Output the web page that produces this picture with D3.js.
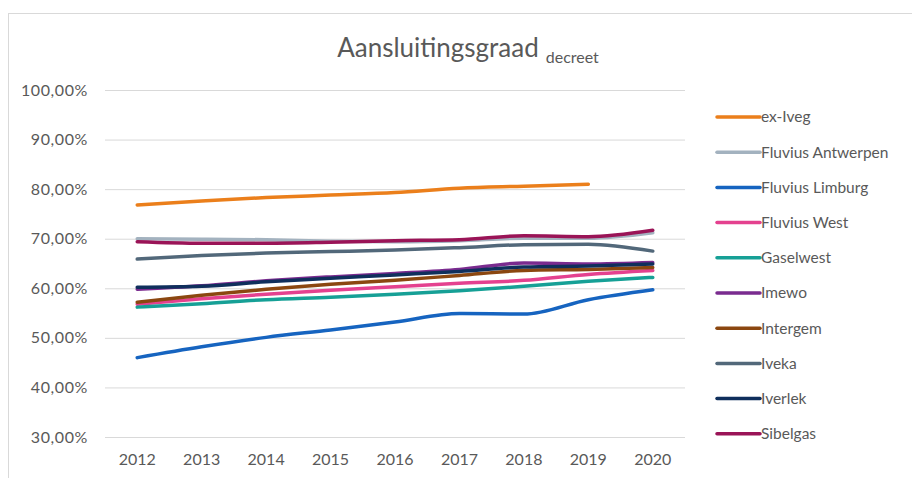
<!DOCTYPE html>
<html>
<head>
<meta charset="utf-8">
<script src="https://cdn.jsdelivr.net/npm/d3@7"></script>
<style>
body { margin: 0; background: #fff; overflow: hidden; }
text { font-family: Lato, "Open Sans", sans-serif; fill: #595959; }
.tick text { font-size: 16px; }
.tick line { stroke: #d9d9d9; }
.title { font-size: 26px; }
.legend text { font-size: 15.5px; }
</style>
</head>
<body>
<svg width="912" height="478"></svg>
<script>
const years = [2012, 2013, 2014, 2015, 2016, 2017, 2018, 2019, 2020];
const yTicks = [30, 40, 50, 60, 70, 80, 90, 100];
const names = ['ex-Iveg', 'Fluvius Antwerpen', 'Fluvius Limburg', 'Fluvius West', 'Gaselwest',
  'Imewo', 'Intergem', 'Iveka', 'Iverlek', 'Sibelgas'];
const colors = ['#eb7f1b', '#a3b2bf', '#1664c0', '#e4418f', '#16a096',
  '#7a2b8f', '#8b4710', '#52687a', '#0f2f5c', '#9a1457'];

const exIveg      = [76.8, 77.6, 78.3, 78.8, 79.3, 80.2, 80.6, 81.0, null];
const antwerpen   = [70.0, 69.9, 69.8, 69.5, 69.4, 69.6, 70.1, 70.1, 71.2];
const limburg     = [46.0, 48.2, 50.1, 51.6, 53.2, 54.9, 54.8, 57.7, 59.7];
const west        = [56.8, 57.9, 58.8, 59.6, 60.3, 61.0, 61.6, 62.8, 63.6];
const gaselwest   = [56.2, 56.9, 57.7, 58.2, 58.8, 59.5, 60.4, 61.4, 62.2];
const imewo       = [59.8, 60.5, 61.5, 62.3, 63.0, 63.8, 65.1, 64.9, 65.2];
const intergem    = [57.2, 58.6, 59.8, 60.8, 61.6, 62.6, 63.6, 63.8, 64.2];
const iveka       = [65.9, 66.6, 67.1, 67.4, 67.7, 68.2, 68.8, 68.9, 67.5];
const iverlek     = [60.2, 60.4, 61.3, 62.0, 62.7, 63.4, 64.3, 64.5, 64.9];
const sibelgas    = [69.4, 69.1, 69.1, 69.3, 69.6, 69.8, 70.6, 70.4, 71.7];
const seriesValues = [exIveg, antwerpen, limburg, west, gaselwest, imewo, intergem, iveka, iverlek, sibelgas];

const svg = d3.select('svg');

// outer frame
svg.append('rect')
  .attr('x', 8.5).attr('y', 13.5)
  .attr('width', 1000).attr('height', 1000)
  .attr('fill', 'none').attr('stroke', '#d9d9d9');

const x = d3.scaleBand().domain(years).range([105, 685]);
const y = d3.scaleLinear().domain([30, 100]).range([437, 90]);

const yAxis = svg.append('g')
  .attr('transform', 'translate(105,0)')
  .call(d3.axisLeft(y).tickValues(yTicks).tickSize(-580).tickPadding(17)
    .tickFormat(d => d3.format('.2f')(d).replace('.', ',') + '%'));
yAxis.select('.domain').remove();
yAxis.selectAll('.tick line').attr('stroke', '#d9d9d9');
yAxis.selectAll('.tick text').attr('letter-spacing', '0.6px');

const xAxis = svg.append('g')
  .attr('transform', 'translate(0,437)')
  .call(d3.axisBottom(x).tickSize(0).tickPadding(17));
xAxis.select('.domain').remove();

const line = d3.line()
  .defined(d => d != null)
  .x((d, i) => x(years[i]) + x.bandwidth() / 2)
  .y(d => y(d))
  .curve(d3.curveMonotoneX);

svg.append('g').selectAll('path')
  .data(seriesValues)
  .join('path')
  .attr('d', d => line(d))
  .attr('fill', 'none')
  .attr('stroke', (d, i) => colors[i])
  .attr('stroke-width', 3.5)
  .attr('stroke-linecap', 'round')
  .attr('stroke-linejoin', 'round');

// title
const title = svg.append('text')
  .attr('class', 'title')
  .attr('x', 468).attr('y', 57)
  .attr('text-anchor', 'middle');
title.append('tspan').text('Aansluitingsgraad');
title.append('tspan').attr('dx', 7).attr('dy', 6).style('font-size', '16px').text('decreet');

// legend
const legend = svg.append('g').attr('class', 'legend')
  .selectAll('g')
  .data(names)
  .join('g')
  .attr('transform', (d, i) => `translate(717,${117 + i * 35.2})`);
legend.append('line')
  .attr('x1', 0).attr('x2', 43)
  .attr('stroke', (d, i) => colors[i])
  .attr('stroke-width', 3.5)
  .attr('stroke-linecap', 'round');
legend.append('text')
  .attr('x', 44).attr('dy', '0.35em')
  .text(d => d);
</script>
</body>
</html>
